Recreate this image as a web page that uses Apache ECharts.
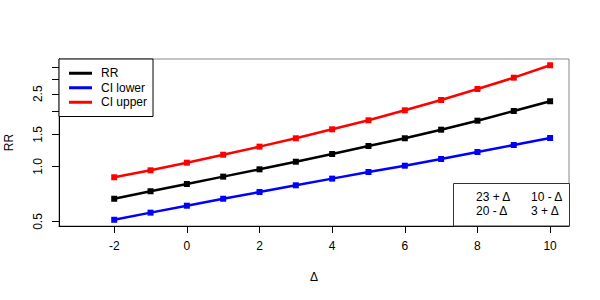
<!DOCTYPE html>
<html>
<head>
<meta charset="utf-8">
<script src="https://cdn.jsdelivr.net/npm/echarts@6/dist/echarts.min.js"></script>
<style>html,body{margin:0;padding:0;background:#fff}#c{width:600px;height:300px}</style>
</head>
<body>
<div id="c"></div>
<script>
const delta = [-2, -1, 0, 1, 2, 3, 4, 5, 6, 7, 8, 9, 10];
const rr = [0.666, 0.732, 0.802, 0.880, 0.965, 1.062, 1.170, 1.295, 1.427, 1.590, 1.781, 2.013, 2.275];
const ciLower = [0.511, 0.559, 0.610, 0.666, 0.725, 0.789, 0.858, 0.933, 1.010, 1.099, 1.200, 1.311, 1.432];
const ciUpper = [0.873, 0.953, 1.049, 1.160, 1.284, 1.427, 1.598, 1.790, 2.030, 2.312, 2.656, 3.062, 3.580];
const xTicks = [-2, 0, 2, 4, 6, 8, 10];
const yTicks = [0.5, 1.0, 1.5, 2.0, 2.5, 3.0, 3.5];
const yLabels = [0.5, 1.0, 1.5, 2.5];
const seriesNames = ['RR', 'CI lower', 'CI upper'];
const seriesColors = ['#000000', '#0000ff', '#ff0000'];
const tableText = [['23 + Δ', '10 - Δ'], ['20 - Δ', '3 + Δ']];

const FONT = 'Liberation Sans';
const pairs = arr => delta.map((d, i) => [d, arr[i]]);
const seriesData = [rr, ciLower, ciUpper];

const chart = echarts.init(document.getElementById('c'), null, {renderer: 'svg'});
const graphicTexts = [];
tableText.forEach((row, r) => {
  row.forEach((t, c) => {
    graphicTexts.push({
      type: 'text', left: c === 0 ? 476 : 531, top: r === 0 ? 190.5 : 205,
      style: {text: t, font: '12px "' + FONT + '"', fill: '#000'}, z: 10
    });
  });
});
chart.setOption({
  animation: false,
  textStyle: {fontFamily: FONT},
  grid: {left: 59, right: 31, top: 59, bottom: 74, show: true, borderColor: '#888', borderWidth: 1,
    containLabel: false, outerBoundsMode: 'none'},
  xAxis: {
    type: 'value', min: -3.52, max: 10.52,
    name: 'Δ', nameLocation: 'middle', nameGap: 45,
    nameTextStyle: {fontSize: 12, color: '#000', fontFamily: FONT},
    axisLine: {show: true, onZero: false, lineStyle: {color: '#000', width: 1}},
    axisTick: {show: true, length: 7, customValues: xTicks, lineStyle: {color: '#000'}},
    axisLabel: {customValues: xTicks, margin: 14, fontSize: 12, color: '#000', fontFamily: FONT},
    splitLine: {show: false}
  },
  yAxis: {
    type: 'log', logBase: 10, min: 0.4724, max: 3.875,
    name: 'RR', nameLocation: 'middle', nameGap: 44, nameRotate: 90,
    nameTextStyle: {fontSize: 12, color: '#000', fontFamily: FONT},
    axisLine: {show: true, onZero: false, lineStyle: {color: '#000', width: 1}},
    axisTick: {show: true, length: 7, customValues: yTicks, lineStyle: {color: '#000'}},
    axisLabel: {customValues: yLabels, rotate: 90, margin: 15, fontSize: 12, color: '#000', fontFamily: FONT,
      formatter: v => Number(v).toFixed(1)},
    splitLine: {show: false},
    minorTick: {show: false}
  },
  legend: {
    orient: 'vertical', left: 59, top: 59,
    data: seriesNames,
    icon: 'rect', itemWidth: 23, itemHeight: 3, itemGap: 0,
    padding: [7, 6, 7, 10],
    backgroundColor: '#fff', borderColor: '#000', borderWidth: 1, borderRadius: 0,
    textStyle: {fontSize: 12, color: '#000', fontFamily: FONT, lineHeight: 14.5, padding: [0, 0, 0, 4]},
    selectedMode: false
  },
  graphic: [
    {type: 'rect', shape: {x: 453.5, y: 183.5, width: 116, height: 42.5},
      style: {fill: '#fff', stroke: '#333', lineWidth: 1}, z: 9}
  ].concat(graphicTexts),
  series: seriesNames.map((n, i) => ({
    name: n, type: 'line', data: pairs(seriesData[i]),
    symbol: 'rect', symbolSize: 6, showSymbol: true,
    lineStyle: {color: seriesColors[i], width: 2.5},
    itemStyle: {color: seriesColors[i]},
    emphasis: {disabled: true}
  }))
});
</script>
</body>
</html>
